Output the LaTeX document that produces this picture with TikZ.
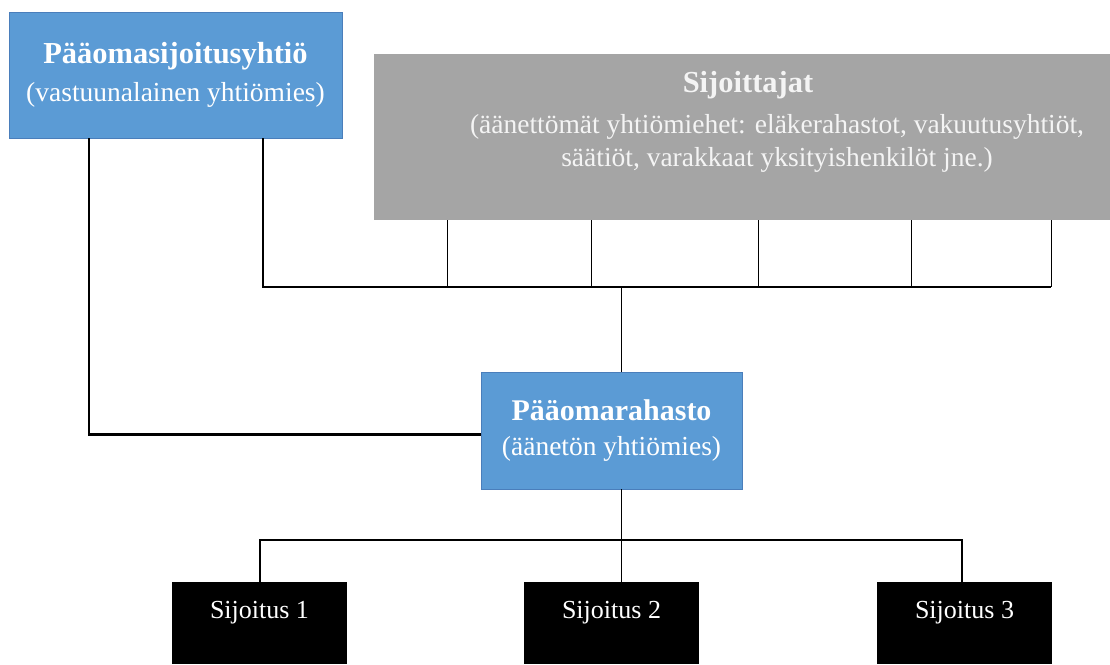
\documentclass[tikz,border=0pt]{standalone}
\usepackage{fontspec}
\setmainfont{Liberation Serif}
\definecolor{gpblue}{HTML}{5B9BD5}
\definecolor{gpedge}{HTML}{4A7EBB}
\definecolor{lpgray}{HTML}{A5A5A5}
\definecolor{lptext}{HTML}{F4F4F4}
\begin{document}
\begin{tikzpicture}[x=1pt, y=-1pt,
        bluebox/.style={draw=gpedge, fill=gpblue, text=white, align=center, inner sep=0pt, font=\fontsize{27.5}{38}\selectfont},
        holding/.style={fill=black, text=white, minimum width=175pt, minimum height=82pt, inner sep=0pt, text height=36pt, text depth=46pt, font=\fontsize{26}{30}\selectfont},
        bus/.style={line width=2.5pt},
        leg/.style={line width=1pt}]
        \useasboundingbox (0,0) rectangle (1110,664);

        % Boxes
        \node[bluebox, minimum width=333pt, minimum height=126pt] (gp) at (175.5,75)
            {{\fontsize{30.5}{38}\selectfont\bfseries Pääomasijoitusyhtiö}\\(vastuunalainen yhtiömies)};
        \node[fill=lpgray, minimum width=736pt, minimum height=166pt, inner sep=0pt] (lp) at (742,137) {};
        \node[text=lptext, font=\fontsize{30.5}{36}\selectfont\bfseries] (lptitle) at (748,85) {Sijoittajat};
        \node[text=lptext, align=center, font=\fontsize{27.5}{33}\selectfont] (lpnote) at (777,143)
            {(äänettömät yhtiömiehet: eläkerahastot, vakuutusyhtiöt,\\säätiöt, varakkaat yksityishenkilöt jne.)};
        \node[bluebox, minimum width=261pt, minimum height=117pt, font=\fontsize{27.5}{35}\selectfont] (fund) at (611.5,430.5)
            {{\fontsize{30}{35}\selectfont\bfseries Pääomarahasto}\\(äänetön yhtiömies)};
        \node[holding, anchor=north] (s1) at (259.5,582) {Sijoitus 1};
        \node[holding, anchor=north] (s2) at (611.5,582) {Sijoitus 2};
        \node[holding, anchor=north] (s3) at (964.5,582) {Sijoitus 3};

        % Investors to the fund
        \coordinate (busl) at (263,287);
        \coordinate (busr) at (1051,287);
        \draw[bus] ([xshift=87.5pt]gp.south) -- (busl) -- (busr);
        \foreach \x in {447, 591, 758, 911, 1051} {
            \draw[leg] (\x,220) -- (\x,287);
        }
        \draw[leg] ([xshift=9.5pt]fund.north |- busl) -- ([xshift=9.5pt]fund.north);

        % General partner to the fund
        \draw[bus] ([xshift=-86.5pt]gp.south) |- ([yshift=-4pt]fund.west);

        % Fund to the holdings
        \coordinate (lowbus) at (621,540);
        \draw[leg] ([xshift=9.5pt]fund.south) -- ([xshift=9.5pt]s2.north);
        \draw[bus] ([xshift=0.5pt]s1.north) |- (lowbus) -| ([xshift=-2.5pt]s3.north);
    \end{tikzpicture}
\end{document}
